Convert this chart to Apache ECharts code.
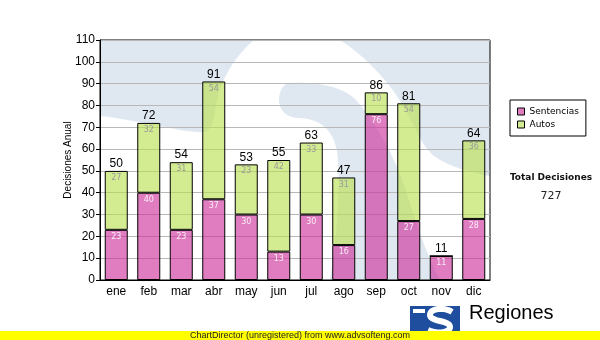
<!DOCTYPE html>
<html>
<head>
<meta charset="utf-8">
<script src="https://cdn.jsdelivr.net/npm/echarts@6/dist/echarts.min.js"></script>
<style>
  html, body { margin: 0; padding: 0; background: #fff; }
  #chart { width: 600px; height: 340px; }
</style>
</head>
<body>
<div id="chart"></div>
<script>
// Monthly decisions, split by type
const months = ['ene', 'feb', 'mar', 'abr', 'may', 'jun', 'jul', 'ago', 'sep', 'oct', 'nov', 'dic'];
const sentencias = [23, 40, 23, 37, 30, 13, 30, 16, 76, 27, 11, 28];
const autos = [27, 32, 31, 54, 23, 42, 33, 31, 10, 54, 0, 36];

const totals = months.map((m, i) => sentencias[i] + autos[i]);
const grandTotal = totals.reduce((a, b) => a + b, 0);

// plot rectangle (pixels)
const PL = 100, PT = 40, PW = 390, PH = 240;
const WM_BLUE = '#dfe8f1';

// Turn a simple M/L/C/Z outline into a point list for polygon/polyline elements
function outline(d) {
  const tok = d.match(/[MLCZ]|-?\d+(\.\d+)?/g);
  const pts = [];
  let i = 0, cmd = null, cur = [0, 0];
  while (i < tok.length) {
    if (/[MLCZ]/.test(tok[i])) { cmd = tok[i++]; if (cmd === 'Z') continue; }
    if (cmd === 'M' || cmd === 'L') {
      cur = [+tok[i], +tok[i + 1]]; i += 2; pts.push(cur);
    } else if (cmd === 'C') {
      const p1 = [+tok[i], +tok[i + 1]], p2 = [+tok[i + 2], +tok[i + 3]], p3 = [+tok[i + 4], +tok[i + 5]];
      i += 6;
      for (let s = 1; s <= 16; s++) {
        const t = s / 16, u = 1 - t;
        pts.push([
          u * u * u * cur[0] + 3 * u * u * t * p1[0] + 3 * u * t * t * p2[0] + t * t * t * p3[0],
          u * u * u * cur[1] + 3 * u * u * t * p1[1] + 3 * u * t * t * p2[1] + t * t * t * p3[1]
        ]);
      }
      cur = p3;
    } else { i++; }
  }
  return pts;
}

// pale logo shapes behind the bars
const wmShapes = [
  'M100,40 L254,40 C240,52 224,72 218,96 C214,114 214,126 206,132 C185,134 140,120 100,116 Z',
  'M340,40 L490,40 L490,176 C468,172 448,166 434,156 C420,144 414,124 402,104 C390,84 368,58 340,40 Z',
  'M290,83 C318,82 342,86 356,100 C372,118 392,150 404,185 C414,215 424,250 440,280 L330,280 ' +
  'C336,240 340,200 338,160 C336,135 326,120 300,118 C286,118 279,110 279,100 C279,90 284,83 290,83 Z'
];

const chart = echarts.init(document.getElementById('chart'), null, { renderer: 'canvas' });

const axisFont = 'Liberation Sans';

chart.setOption({
  animation: false,
  backgroundColor: '#ffffff',
  grid: {
    left: PL, top: PT, width: PW, height: PH,
    show: true, borderColor: '#000', borderWidth: 1, backgroundColor: 'transparent'
  },
  legend: {
    data: ['Sentencias', 'Autos'],
    orient: 'vertical',
    left: 510, top: 100,
    padding: [7, 7, 7, 7],
    backgroundColor: '#fff',
    borderColor: '#000', borderWidth: 1, borderRadius: 0,
    itemWidth: 7, itemHeight: 7, itemGap: 4,
    icon: 'rect',
    itemStyle: { borderColor: '#000', borderWidth: 1 },
    textStyle: { fontFamily: 'DejaVu Sans', fontSize: 9, lineHeight: 9, color: '#000' },
    selectedMode: false
  },
  xAxis: {
    type: 'category',
    data: months,
    axisLine: { show: true, lineStyle: { color: '#000', width: 1 } },
    axisTick: { show: false },
    axisLabel: { color: '#000', fontFamily: axisFont, fontSize: 12, margin: 6 },
    splitLine: { show: false }
  },
  yAxis: {
    type: 'value',
    min: 0, max: 110, interval: 10,
    name: 'Decisiones Anual',
    nameLocation: 'middle',
    nameRotate: 90,
    nameGap: 27,
    nameMoveOverlap: false,
    nameTextStyle: { color: '#000', fontFamily: axisFont, fontSize: 10 },
    axisLine: { show: true, lineStyle: { color: '#000', width: 1 } },
    axisTick: { show: true, length: 4, lineStyle: { color: '#000' } },
    axisLabel: { color: '#000', fontFamily: axisFont, fontSize: 12, margin: 5 },
    splitLine: { show: true, lineStyle: { color: '#b8b8b8', width: 1 } }
  },
  series: [
    {
      name: 'Sentencias',
      type: 'bar',
      stack: 'dec',
      barWidth: 23,
      data: sentencias,
      itemStyle: { color: 'rgba(205,45,154,0.62)', borderColor: '#000', borderWidth: 1 },
      label: {
        show: true, position: 'insideTop', distance: 3,
        fontFamily: 'DejaVu Sans', fontSize: 8, color: 'rgba(255,255,255,0.85)',
        formatter: p => (p.value ? String(p.value) : '')
      }
    },
    {
      name: 'Autos',
      type: 'bar',
      stack: 'dec',
      barWidth: 23,
      data: autos,
      itemStyle: { color: 'rgba(186,225,77,0.62)', borderColor: '#000', borderWidth: 1 },
      label: {
        show: true, position: 'insideTop', distance: 3,
        fontFamily: 'DejaVu Sans', fontSize: 8, color: '#9a9a9a',
        formatter: p => (p.value ? String(p.value) : '')
      }
    },
    {
      name: 'Total',
      type: 'bar',
      stack: 'dec',
      barWidth: 23,
      data: months.map(() => 0),
      itemStyle: { color: 'transparent', borderWidth: 0 },
      label: {
        show: true, position: 'top', distance: 1,
        fontFamily: axisFont, fontSize: 12, color: '#000',
        formatter: p => String(totals[p.dataIndex])
      }
    }
  ],
  graphic: [
    ...wmShapes.map(d => ({
      type: 'polygon', z: -5, silent: true,
      shape: { points: outline(d) },
      style: { fill: WM_BLUE }
    })),
    // summary on the right
    {
      type: 'text', x: 551, y: 178,
      style: { text: 'Total Decisiones', textAlign: 'center', textVerticalAlign: 'middle',
        font: 'bold 9px "DejaVu Sans"', fill: '#111' }
    },
    {
      type: 'text', x: 551, y: 196,
      style: { text: String(grandTotal), textAlign: 'center', textVerticalAlign: 'middle',
        font: '11px "DejaVu Sans"', fill: '#222' }
    },
    // logo
    { type: 'rect', z: 5, shape: { x: 410, y: 306, width: 50, height: 30 }, style: { fill: '#1f4e9e' } },
    { type: 'polyline', z: 6,
      shape: { points: outline('M452,312 C445,307 430,308 430,315 C430,322 450,320 450,327 C450,333 436,334 428,330') },
      style: { fill: null, stroke: '#fff', lineWidth: 6 } },
    { type: 'rect', z: 6, shape: { x: 413, y: 309, width: 12, height: 4 }, style: { fill: '#fff' } },
    {
      type: 'text', z: 6, x: 469, y: 323,
      style: { text: 'Regiones', textAlign: 'left', textVerticalAlign: 'bottom',
        font: '20px "Liberation Sans"', fill: '#000' }
    },
    // footer strip
    { type: 'rect', z: 10, shape: { x: 0, y: 331, width: 600, height: 9 }, style: { fill: '#ffff00' } },
    {
      type: 'text', z: 11, x: 410, y: 336,
      style: { text: 'ChartDirector (unregistered) from www.advsofteng.com',
        textAlign: 'right', textVerticalAlign: 'middle', font: '9px "Liberation Sans"', fill: '#222' }
    }
  ]
});
</script>
</body>
</html>
